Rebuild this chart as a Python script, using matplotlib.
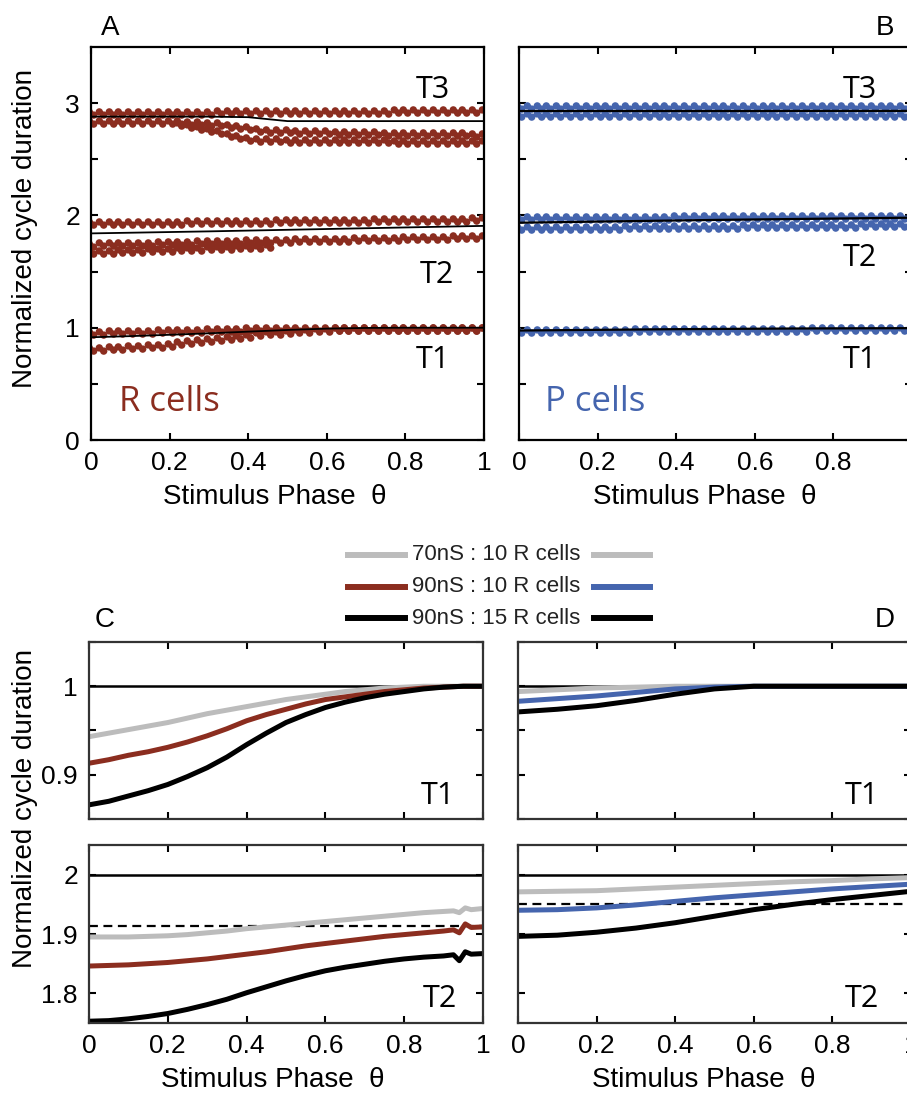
import numpy as np
import matplotlib
matplotlib.use("Agg")
import matplotlib.pyplot as plt
from matplotlib.path import Path
from matplotlib.lines import Line2D

plt.rcParams["font.family"] = ["Liberation Sans", "DejaVu Sans"]

BROWN = "#8b2d1f"
BLUE = "#4565ae"
GRAY = "#bcbcbc"
DARK = "#333333"

# ---------------- panel A (R cells): dot bands ----------------
a_t1_hi = [0.955, 0.956, 0.958, 0.96, 0.961, 0.963, 0.965, 0.967, 0.969, 0.971, 0.973, 0.975, 0.977, 0.979,
           0.981, 0.983, 0.985, 0.987, 0.988, 0.989, 0.99, 0.99, 0.99, 0.99, 0.99, 0.99, 0.99, 0.99, 0.99,
           0.99, 0.99, 0.99, 0.99, 0.99, 0.99, 0.99, 0.99, 0.99, 0.99, 0.99, 0.99]
a_t1_lo = [0.81, 0.81, 0.82, 0.82, 0.83, 0.83, 0.84, 0.84, 0.85, 0.86, 0.87, 0.88, 0.89, 0.90, 0.91, 0.92,
           0.93, 0.94, 0.95, 0.95, 0.96, 0.97, 0.97, 0.98, 0.98, 0.99, 0.99, 0.99, 0.99, 0.99, 0.99, 0.99,
           0.99, 0.99, 0.99, 0.99, 0.99, 0.99, 0.99, 0.99, 0.99]
a_t2_hi = [1.93, 1.93, 1.931, 1.932, 1.933, 1.934, 1.935, 1.936, 1.936, 1.937, 1.938, 1.939, 1.94, 1.941,
           1.942, 1.943, 1.943, 1.944, 1.945, 1.946, 1.947, 1.948, 1.949, 1.95, 1.95, 1.951, 1.952, 1.953,
           1.954, 1.955, 1.956, 1.957, 1.957, 1.958, 1.959, 1.96, 1.961, 1.962, 1.963, 1.964, 1.965]
a_t2_lo = [1.74, 1.742, 1.743, 1.745, 1.747, 1.749, 1.75, 1.752, 1.754, 1.756, 1.757, 1.759, 1.761, 1.763,
           1.764, 1.766, 1.768, 1.77, 1.771, 1.773, 1.775, 1.777, 1.778, 1.78, 1.782, 1.784, 1.785, 1.787,
           1.789, 1.791, 1.792, 1.794, 1.796, 1.798, 1.799, 1.801, 1.803, 1.805, 1.806, 1.808, 1.81]
nan = np.nan
a_t2_drop = [1.67, 1.673, 1.676, 1.679, 1.682, 1.685, 1.688, 1.691, 1.694, 1.697, 1.7, 1.703, 1.706,
             1.709, 1.712, 1.715, 1.719, 1.723, 1.727, nan, nan, nan, nan, nan, nan, nan, nan, nan, nan,
             nan, nan, nan, nan, nan, nan, nan, nan, nan, nan, nan, nan]
a_t3_hi = [2.91, 2.911, 2.911, 2.912, 2.912, 2.913, 2.913, 2.914, 2.914, 2.915, 2.915, 2.916, 2.916, 2.917,
           2.917, 2.918, 2.918, 2.919, 2.919, 2.92, 2.92, 2.921, 2.921, 2.922, 2.922, 2.923, 2.923, 2.924,
           2.924, 2.925, 2.925, 2.926, 2.926, 2.927, 2.927, 2.928, 2.928, 2.929, 2.929, 2.93, 2.93]
a_t3_mid = [2.83, 2.83, 2.83, 2.83, 2.83, 2.83, 2.83, 2.83, 2.83, 2.828, 2.826, 2.822, 2.818, 2.81, 2.8,
            2.79, 2.778, 2.765, 2.755, 2.75, 2.748, 2.746, 2.744, 2.742, 2.74, 2.738, 2.736, 2.734, 2.732,
            2.73, 2.729, 2.728, 2.727, 2.726, 2.725, 2.724, 2.723, 2.722, 2.721, 2.72, 2.72]
a_t3_low = [nan, nan, nan, nan, nan, nan, nan, nan, nan, 2.815, 2.80, 2.78, 2.76, 2.74, 2.72, 2.70, 2.685,
            2.675, 2.67, 2.668, 2.667, 2.666, 2.665, 2.664, 2.663, 2.662, 2.661, 2.66, 2.66, 2.659, 2.659,
            2.658, 2.658, 2.657, 2.657, 2.656, 2.656, 2.655, 2.655, 2.655, 2.655]

# black reference lines in A and B (theta 0, 0.1, ... 1)
ref_theta = [0.0, 0.1, 0.2, 0.3, 0.4, 0.5, 0.6, 0.7, 0.8, 0.9, 1.0]
a_line_t1 = [0.915, 0.925, 0.937, 0.95, 0.965, 0.98, 0.992, 0.998, 1.0, 1.0, 1.0]
a_line_t2 = [1.84, 1.846, 1.852, 1.858, 1.865, 1.872, 1.879, 1.886, 1.893, 1.9, 1.907]
a_line_t3 = [2.88, 2.88, 2.88, 2.88, 2.875, 2.84, 2.84, 2.84, 2.84, 2.84, 2.84]

# ---------------- panel B (P cells) ----------------
b_t1 = [0.97, 0.97, 0.971, 0.971, 0.972, 0.972, 0.973, 0.973, 0.974, 0.974, 0.975, 0.975, 0.976, 0.976,
        0.977, 0.977, 0.978, 0.978, 0.979, 0.979, 0.98, 0.98, 0.981, 0.981, 0.982, 0.982, 0.983, 0.983,
        0.984, 0.984, 0.985, 0.985, 0.986, 0.986, 0.987, 0.987, 0.988, 0.988, 0.989, 0.989, 0.99]
b_t2_hi = [1.975, 1.975, 1.976, 1.976, 1.977, 1.977, 1.978, 1.978, 1.978, 1.979, 1.979, 1.98, 1.98, 1.98,
           1.981, 1.981, 1.982, 1.982, 1.982, 1.983, 1.983, 1.984, 1.984, 1.984, 1.985, 1.985, 1.986, 1.986,
           1.986, 1.987, 1.987, 1.988, 1.988, 1.988, 1.989, 1.989, 1.99, 1.99, 1.99, 1.99, 1.99]
b_t2_lo = [1.885, 1.886, 1.886, 1.887, 1.888, 1.889, 1.889, 1.89, 1.891, 1.892, 1.892, 1.893, 1.894, 1.895,
           1.895, 1.896, 1.897, 1.898, 1.898, 1.899, 1.9, 1.901, 1.901, 1.902, 1.903, 1.904, 1.904, 1.905,
           1.906, 1.907, 1.907, 1.908, 1.909, 1.91, 1.91, 1.911, 1.912, 1.913, 1.913, 1.914, 1.915]
b_t3_hi = [2.965, 2.965, 2.965, 2.966, 2.966, 2.966, 2.966, 2.966, 2.966, 2.966, 2.966, 2.966, 2.966, 2.967,
           2.967, 2.967, 2.967, 2.967, 2.967, 2.967, 2.967, 2.967, 2.967, 2.967, 2.968, 2.968, 2.968, 2.968,
           2.968, 2.968, 2.968, 2.968, 2.968, 2.968, 2.968, 2.969, 2.969, 2.969, 2.969, 2.969, 2.969]
b_t3_lo = [2.89, 2.89, 2.89, 2.89, 2.89, 2.89, 2.891, 2.891, 2.891, 2.891, 2.891, 2.891, 2.891, 2.892,
           2.892, 2.892, 2.892, 2.892, 2.892, 2.892, 2.893, 2.893, 2.893, 2.893, 2.893, 2.893, 2.893, 2.894,
           2.894, 2.894, 2.894, 2.894, 2.894, 2.894, 2.895, 2.895, 2.895, 2.895, 2.895, 2.895, 2.895]
b_line_t1 = [0.975, 0.978, 0.981, 0.984, 0.987, 0.989, 0.991, 0.993, 0.994, 0.995, 0.996]
b_line_t2 = [1.935, 1.94, 1.945, 1.95, 1.955, 1.96, 1.964, 1.968, 1.972, 1.976, 1.98]
b_line_t3 = [2.93, 2.93, 2.93, 2.93, 2.93, 2.93, 2.93, 2.931, 2.931, 2.931, 2.931]

# ---------------- panel C (R network) ----------------
c1_theta = [0.0, 0.05, 0.1, 0.15, 0.2, 0.25, 0.3, 0.35, 0.4, 0.45, 0.5, 0.55, 0.6, 0.65, 0.7, 0.75, 0.8,
            0.85, 0.9, 0.95, 1.0]
c1_70_10 = [0.943, 0.947, 0.951, 0.955, 0.959, 0.964, 0.969, 0.973, 0.977, 0.981, 0.985, 0.988, 0.991,
            0.994, 0.996, 0.998, 0.999, 1.0, 1.0, 1.0, 1.0]
c1_90_10 = [0.913, 0.917, 0.922, 0.926, 0.931, 0.937, 0.944, 0.952, 0.961, 0.968, 0.974, 0.98, 0.985,
            0.988, 0.991, 0.994, 0.996, 0.998, 0.999, 1.0, 1.0]
c1_90_15 = [0.866, 0.87, 0.876, 0.882, 0.889, 0.898, 0.908, 0.92, 0.934, 0.947, 0.959, 0.968, 0.976,
            0.982, 0.987, 0.991, 0.994, 0.997, 0.999, 1.0, 1.0]
c2_theta = [0.0, 0.05, 0.1, 0.15, 0.2, 0.25, 0.3, 0.35, 0.4, 0.45, 0.5, 0.55, 0.6, 0.65, 0.7, 0.75, 0.8,
            0.85, 0.9, 0.925, 0.94, 0.955, 0.97, 1.0]
c2_70_10 = [1.895, 1.895, 1.895, 1.896, 1.897, 1.899, 1.902, 1.905, 1.909, 1.912, 1.915, 1.918, 1.921,
            1.924, 1.927, 1.93, 1.933, 1.936, 1.938, 1.939, 1.936, 1.944, 1.941, 1.943]
c2_90_10 = [1.846, 1.847, 1.848, 1.85, 1.852, 1.855, 1.858, 1.862, 1.866, 1.87, 1.875, 1.88, 1.884,
            1.888, 1.892, 1.896, 1.899, 1.902, 1.905, 1.907, 1.902, 1.917, 1.911, 1.912]
c2_90_15 = [1.753, 1.754, 1.757, 1.761, 1.766, 1.773, 1.781, 1.79, 1.801, 1.811, 1.821, 1.83, 1.838,
            1.844, 1.849, 1.854, 1.858, 1.861, 1.863, 1.865, 1.855, 1.87, 1.866, 1.867]
c2_dashed = 1.913

# ---------------- panel D (P network) ----------------
d_theta = [0.0, 0.1, 0.2, 0.3, 0.4, 0.5, 0.6, 0.7, 0.8, 0.9, 1.0]
d1_70_10 = [0.994, 0.996, 0.998, 0.999, 1.0, 1.0, 1.0, 1.0, 1.0, 1.0, 1.0]
d1_90_10 = [0.983, 0.986, 0.989, 0.993, 0.997, 0.999, 1.0, 1.0, 1.0, 1.0, 1.0]
d1_90_15 = [0.971, 0.974, 0.978, 0.984, 0.991, 0.997, 1.0, 1.0, 1.0, 1.0, 1.0]
d2_70_10 = [1.971, 1.972, 1.973, 1.976, 1.979, 1.982, 1.985, 1.988, 1.99, 1.993, 1.995]
d2_90_10 = [1.94, 1.941, 1.944, 1.949, 1.955, 1.961, 1.966, 1.971, 1.976, 1.98, 1.984]
d2_90_15 = [1.896, 1.898, 1.903, 1.91, 1.919, 1.93, 1.941, 1.95, 1.958, 1.965, 1.972]
d2_dashed = 1.951

legend_labels = ["70nS : 10 R cells", "90nS : 10 R cells", "90nS : 15 R cells"]
xtick_vals = [0, 0.2, 0.4, 0.6, 0.8, 1.0]
xtick_txt = ["0", "0.2", "0.4", "0.6", "0.8", "1"]

# ---------------------------------------------------------------------------------
W, H = 907, 1093
fig = plt.figure(figsize=(W / 100, H / 100), dpi=100)


def px_axes(x0, y0, x1, y1):
    return fig.add_axes([x0 / W, 1 - y1 / H, (x1 - x0) / W, (y1 - y0) / H])


# marker: two slanted, overlapping round dots (repeated-cycle dots in A/B)
dot_stack = Path.make_compound_path(Path.circle((-0.25, 0.18), 0.42),
                                    Path.circle((0.25, -0.18), 0.42))


def style(ax, spine_col="black"):
    ax.tick_params(direction="in", length=5, width=1.5, top=True, right=True,
                   labelsize=19, pad=8, colors="black")
    for s in ax.spines.values():
        s.set_linewidth(1.6)
        s.set_color(spine_col)
    ax.set_xlim(0, 1)
    ax.set_xticks(xtick_vals)


def band(ax, vals, col):
    th = np.linspace(0, 1, len(vals))
    ax.plot(th, vals, ls="none", marker=dot_stack, ms=8.5, mew=0, color=col, zorder=2)


TFONT = dict(family=["Open Sans", "DejaVu Sans"], fontsize=22, ha="center", va="center")

# ---- A ----
axA = px_axes(91, 47, 484, 440)
style(axA)
axA.set_ylim(0, 3.5)
axA.set_yticks([0, 0.5, 1, 1.5, 2, 2.5, 3])
axA.set_yticklabels(["0", "", "1", "", "2", "", "3"])
axA.set_xticklabels(xtick_txt)
for v in [a_t1_hi, a_t1_lo, a_t2_hi, a_t2_lo, a_t2_drop, a_t3_hi, a_t3_mid, a_t3_low]:
    band(axA, v, BROWN)
for v in [a_line_t1, a_line_t2, a_line_t3]:
    axA.plot(ref_theta, v, color="black", lw=1.3, zorder=3)
axA.text(0.87, 3.12, "T3", **TFONT)
axA.text(0.88, 1.47, "T2", **TFONT)
axA.text(0.87, 0.71, "T1", **TFONT)
axA.text(0.2, 0.34, "R cells", color=BROWN, family=["Open Sans", "DejaVu Sans"], fontsize=25,
         ha="center", va="center")

# ---- B ----
axB = px_axes(519, 47, 912, 440)
style(axB)
axB.set_ylim(0, 3.5)
axB.set_yticks([0, 0.5, 1, 1.5, 2, 2.5, 3])
axB.set_yticklabels([])
axB.set_xticklabels(xtick_txt)
for v in [b_t1, b_t2_hi, b_t2_lo, b_t3_hi, b_t3_lo]:
    band(axB, v, BLUE)
for v in [b_line_t1, b_line_t2, b_line_t3]:
    axB.plot(ref_theta, v, color="black", lw=1.6, zorder=3)
axB.text(0.868, 3.12, "T3", **TFONT)
axB.text(0.868, 1.62, "T2", **TFONT)
axB.text(0.868, 0.71, "T1", **TFONT)
axB.text(0.193, 0.34, "P cells", color=BLUE, family=["Open Sans", "DejaVu Sans"], fontsize=25,
         ha="center", va="center")

# ---- C / D ----
LW = 3.6
axC1 = px_axes(89, 642, 483, 819)
axC2 = px_axes(89, 845, 483, 1023)
axD1 = px_axes(518, 642, 911, 819)
axD2 = px_axes(518, 845, 911, 1023)
for ax in [axC1, axC2, axD1, axD2]:
    style(ax, DARK)

for ax, left in [(axC1, True), (axD1, False)]:
    ax.set_ylim(0.85, 1.05)
    ax.set_yticks([0.85, 0.9, 0.95, 1.0, 1.05])
    ax.set_yticklabels(["", "0.9", "", "1", ""] if left else [])
    ax.set_xticklabels([])
    ax.axhline(1.0, color="black", lw=1.8, zorder=1)
for ax, left in [(axC2, True), (axD2, False)]:
    ax.set_ylim(1.75, 2.05)
    ax.set_yticks([1.8, 1.9, 2.0])
    ax.set_yticklabels(["1.8", "1.9", "2"] if left else [])
    ax.set_xticklabels(xtick_txt)
    ax.axhline(2.0, color="black", lw=1.8, zorder=1)
axC2.axhline(c2_dashed, color="black", lw=1.6, ls=(0, (4, 2.5)), zorder=1)
axD2.axhline(d2_dashed, color="black", lw=1.6, ls=(0, (4, 2.5)), zorder=1)

axC1.plot(c1_theta, c1_70_10, color=GRAY, lw=LW)
axC1.plot(c1_theta, c1_90_10, color=BROWN, lw=LW)
axC1.plot(c1_theta, c1_90_15, color="black", lw=LW)
axC2.plot(c2_theta, c2_70_10, color=GRAY, lw=LW)
axC2.plot(c2_theta, c2_90_10, color=BROWN, lw=LW)
axC2.plot(c2_theta, c2_90_15, color="black", lw=LW)
axD1.plot(d_theta, d1_70_10, color=GRAY, lw=LW)
axD1.plot(d_theta, d1_90_10, color=BLUE, lw=LW)
axD1.plot(d_theta, d1_90_15, color="black", lw=LW)
axD2.plot(d_theta, d2_70_10, color=GRAY, lw=LW)
axD2.plot(d_theta, d2_90_10, color=BLUE, lw=LW)
axD2.plot(d_theta, d2_90_15, color="black", lw=LW)

axC1.text(0.886, 0.876, "T1", **TFONT)
axD1.text(0.875, 0.876, "T1", **TFONT)
axC2.text(0.89, 1.79, "T2", **TFONT)
axD2.text(0.875, 1.79, "T2", **TFONT)

# ---- figure texts ----
def ftxt(x, y, s, **kw):
    fig.text(x / W, 1 - y / H, s, **kw)


ftxt(110, 28, "A", fontsize=20, ha="center", va="center")
ftxt(885, 28, "B", fontsize=20, ha="center", va="center")
ftxt(105, 620, "C", fontsize=20, ha="center", va="center")
ftxt(885, 620, "D", fontsize=20, ha="center", va="center")
ftxt(25, 228, "Normalized cycle duration", fontsize=20, rotation=90, ha="center", va="center")
ftxt(25, 808, "Normalized cycle duration", fontsize=20, rotation=90, ha="center", va="center")
for x, y in [(275, 497), (705, 497), (273, 1080), (704, 1080)]:
    ftxt(x, y, "Stimulus Phase  \u03b8", fontsize=20, ha="center", va="center")

# legend (left glyph = R network, right glyph = P network)
left_cols = [GRAY, BROWN, "black"]
right_cols = [GRAY, BLUE, "black"]
for i, (lab, lc, rc) in enumerate(zip(legend_labels, left_cols, right_cols)):
    y = 1 - (555 + i * 31.5) / H
    fig.add_artist(Line2D([348 / W, 405 / W], [y, y], color=lc, lw=4.3, transform=fig.transFigure))
    fig.add_artist(Line2D([594 / W, 650 / W], [y, y], color=rc, lw=4.3, transform=fig.transFigure))
    fig.text(412 / W, y, lab, fontsize=16, color="#222222", ha="left", va="center")

fig.savefig("out.png", dpi=100)
